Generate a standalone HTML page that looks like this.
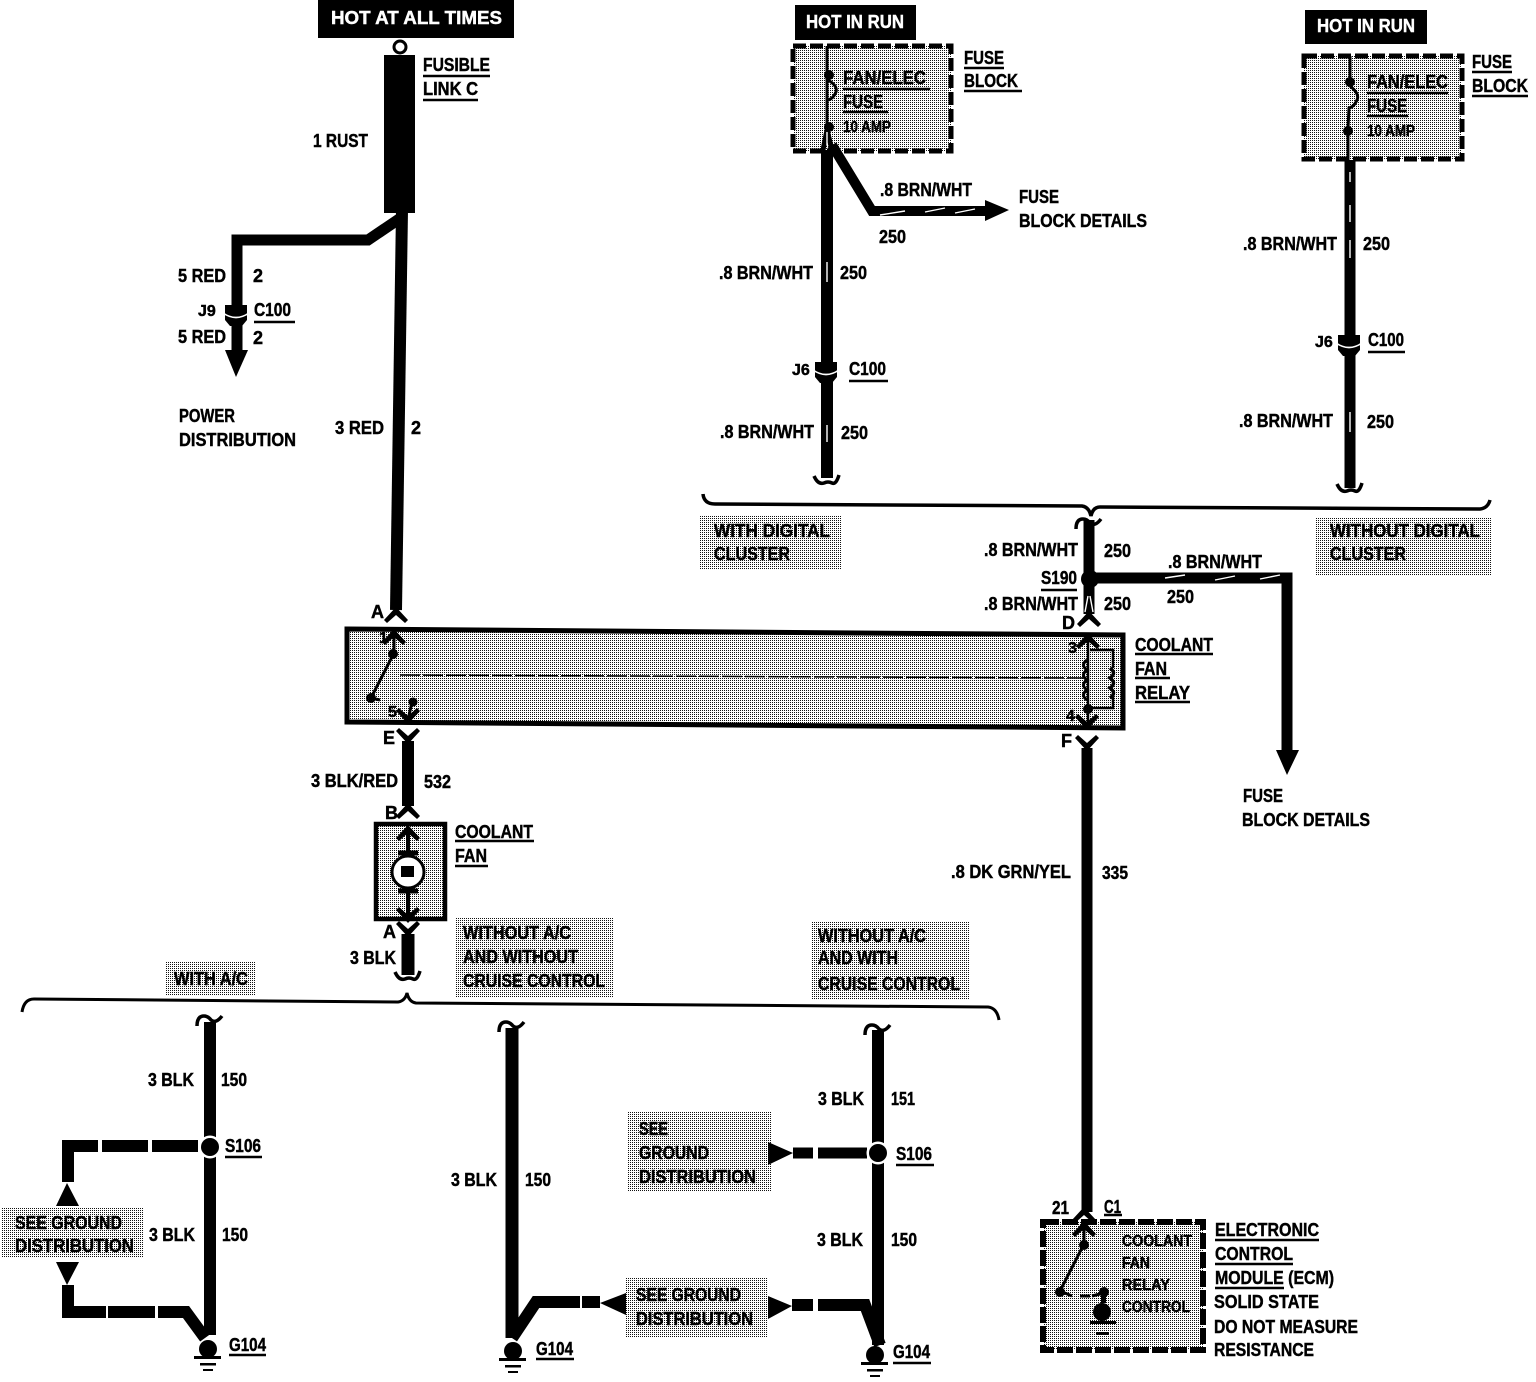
<!DOCTYPE html>
<html><head><meta charset="utf-8"><style>
html,body{margin:0;padding:0;background:#fff;width:1536px;height:1382px;overflow:hidden}
svg{display:block}
text{font-family:"Liberation Sans",sans-serif;font-weight:bold;font-size:18px;fill:#000;stroke:#000;stroke-width:.45}
.s{font-size:16px}
.w{fill:#fff;stroke:#fff}
</style></head><body>
<svg width="1536" height="1382" viewBox="0 0 1536 1382" xmlns="http://www.w3.org/2000/svg">
<defs>
<pattern id="g" width="2" height="2" patternUnits="userSpaceOnUse"><rect width="2" height="2" fill="#fff"/><rect width="1" height="1" fill="#111" shape-rendering="crispEdges"/></pattern>
<path id="cu" d="M0 -3L12 10L9 13L0 5L-9 13L-12 10Z"/>
<path id="cd" d="M0 3L12 -10L9 -13L0 -5L-9 -13L-12 -10Z"/>
<path id="wt" d="M-13 7Q-13 -3 -6 -3Q-2 -3 1 1Q6 5 12 -3" fill="none" stroke="#000" stroke-width="3.5"/>
<path id="wb" d="M-13 -5Q-9 4 -3 2Q1 0 5 2Q9 4 12 -6" fill="none" stroke="#000" stroke-width="3.5"/>
<g id="conn"><path d="M-11 -8H11V7L6 13H-6L-11 7Z"/><path d="M-13 0Q0 9 13 0" fill="none" stroke="#fff" stroke-width="1.6"/></g>
<g id="gnd"><circle cx="0" cy="0" r="9"/><rect x="-14" y="7" width="27" height="3"/><rect x="-8" y="14" width="16" height="2.5"/><rect x="-5" y="20" width="10" height="2"/></g>
</defs>

<!-- shaded areas -->
<g fill="url(#g)">
<rect x="793" y="46" width="158" height="105"/>
<rect x="1304" y="56" width="158" height="103"/>
<rect x="700" y="515" width="141" height="55"/>
<rect x="1315" y="517" width="176" height="59"/>
<path d="M347 629L1123 635V728L347 722Z"/>
<rect x="376" y="824" width="69" height="95"/>
<rect x="456" y="917" width="157" height="81"/>
<rect x="812" y="921" width="158" height="79"/>
<rect x="166" y="962" width="90" height="33"/>
<rect x="2" y="1208" width="142" height="50"/>
<rect x="628" y="1111" width="144" height="80"/>
<rect x="626" y="1277" width="142" height="60"/>
<rect x="1043" y="1222" width="160" height="128"/>
</g>

<!-- header tags -->
<rect x="318" y="0" width="196" height="38"/>
<rect x="795" y="5" width="121" height="35"/>
<rect x="1305" y="10" width="122" height="34"/>

<g fill="none" stroke="#000" stroke-linejoin="miter">
<!-- wires -->
<path d="M402 210L396 610" stroke-width="12"/>
<path d="M402 217L368 240H237V350" stroke-width="11"/>
<path d="M827 150V478" stroke-width="12"/>
<path d="M827 46V135" stroke-width="3"/>
<path d="M827 130L823 150M827 130L832 150" stroke-width="5"/>
<path d="M832 145L872 211H985" stroke-width="10"/>
<path d="M1350 160V488" stroke-width="11"/>
<path d="M1350 56V86M1348 128V160" stroke-width="3"/>
<path d="M1089 520V614" stroke-width="11"/>
<path d="M1090 578H1287V752" stroke-width="11"/>
<path d="M1087 748V1212" stroke-width="11"/>
<path d="M408 741V806" stroke-width="12"/>
<path d="M408 934V975" stroke-width="13"/>
<path d="M210 1022V1335" stroke-width="12"/>
<path d="M512 1028V1338" stroke-width="13"/>
<path d="M878 1030V1345" stroke-width="12"/>
<!-- ground feeds -->
<path d="M198 1146H152M148 1146H102M98 1146H68V1182" stroke-width="12"/>
<path d="M68 1285V1312H106M108 1312H155M158 1312H186L205 1338" stroke-width="12"/>
<path d="M512 1338L536 1302H580M582 1302H600" stroke-width="12"/>
<path d="M867 1153H818M813 1153H793" stroke-width="11"/>
<path d="M880 1345L865 1305H818M813 1305H792" stroke-width="12"/>
<!-- boxes -->
<path d="M347 629L1123 635V728L347 722Z" stroke-width="5"/>
<path d="M376 824H445V919H376Z" stroke-width="4.5"/>
<path d="M793 46H951V151H793Z" stroke-width="5" stroke-dasharray="13 4"/>
<path d="M1304 56H1462V159H1304Z" stroke-width="5" stroke-dasharray="13 4"/>
<path d="M1043 1222H1203V1350H1043Z" stroke-width="6" stroke-dasharray="16 3"/>
<!-- braces -->
<path d="M703 494Q704 504 715 504L1082 506Q1089 507 1091 516Q1093 507 1100 507L1480 509Q1488 508 1490 500" stroke-width="3.5"/>
<path d="M22 1012Q24 999 34 999L398 1002Q405 1001 407 993Q409 1002 416 1003L988 1007Q997 1008 999 1020" stroke-width="3"/>
<!-- relay internals -->
<path d="M394 632V654M393 655L371 698L380 700" stroke-width="3"/>
<path d="M400 675L1084 678" stroke-width="1.5" stroke-dasharray="20 3"/>
<path d="M412 702L408 720" stroke-width="3"/>
<path d="M1088 640V726" stroke-width="2.5"/>
<path d="M1090 650H1113V668M1113 697V708H1088" stroke-width="2.5"/>
<path d="M1087 660q-7 5 0 10q-7 5 0 10q-7 5 0 10q-7 5 0 10" stroke-width="3"/>
<path d="M1110 668q7 5 0 10q7 5 0 10q7 5 0 10" stroke-width="3.5"/>
<!-- fuse curls -->
<path d="M828 80q10 6 8 12q-3 7 -8 8" stroke-width="3"/>
<path d="M1350 86q10 8 7 14q-3 7 -8 8L1348 128" stroke-width="3"/>
<!-- ecm internals -->
<path d="M1084 1225V1244L1060 1291L1072 1296M1080 1296H1090M1092 1296L1104 1293" stroke-width="3"/>
<!-- fan motor -->
<circle cx="408" cy="872" r="16" stroke-width="3" fill="#fff"/>
<path d="M408 828V852M408 892V918" stroke-width="4"/>
<path d="M398 853H418M398 891H418" stroke-width="5"/>
<!-- underlines -->
<path d="M423 76H490M423 100H478M254 322H295M964 68H1004M964 91H1022M843 89H930M843 112H888M849 381H888M1472 72H1512M1472 96H1528M1367 93H1448M1367 116H1408M1368 352H1405M1041 590H1077M1135 654H1213M1135 678H1170M1135 702H1190M455 841H534M455 866H488M225 1157H262M896 1165H934M229 1355H266M536 1359H574M893 1363H931M1104 1215H1122M1215 1240H1319M1215 1264H1293M1215 1288H1284" stroke-width="2.5"/>
</g>

<!-- white tracers on BRN/WHT -->
<g fill="none" stroke="#fff" stroke-width="1.4">
<path d="M880 215L905 211M925 212L945 208M955 213L975 209"/>
<path d="M1165 578L1185 575M1215 580L1235 576M1260 579L1280 575"/>
<path d="M827 262V282M827 425V442M1350 205V222M1350 240V258M1350 412V432M1352 345V355"/>
<path d="M1088 596L1085 612M1090 596L1093 612M827 132V145M1350 172V182"/>
</g>

<!-- gaps around splices -->
<circle cx="210" cy="1147" r="11.5" fill="#fff"/>
<circle cx="878" cy="1153" r="11.5" fill="#fff"/>

<!-- solid components -->
<rect x="384" y="55" width="31" height="158"/>
<circle cx="400" cy="47" r="6" fill="#fff" stroke="#000" stroke-width="3"/>
<path d="M225 350H248L236 377Z"/>
<path d="M985 200L1009 210L985 221Z"/>
<path d="M1276 750H1299L1287 775Z"/>
<path d="M56 1206H79L67 1183Z"/>
<path d="M56 1262H79L67 1285Z"/>
<path d="M626 1293V1315L600 1303Z"/>
<path d="M768 1142V1165L793 1153Z"/>
<path d="M768 1296V1319L792 1306Z"/>
<circle cx="1090" cy="579" r="9"/>
<circle cx="210" cy="1147" r="9"/>
<circle cx="878" cy="1153" r="9"/>
<circle cx="393" cy="654" r="5"/>
<circle cx="371" cy="698" r="5"/>
<circle cx="413" cy="702" r="4.5"/>
<circle cx="1084" cy="1245" r="5"/>
<circle cx="1060" cy="1292" r="5"/>
<circle cx="829" cy="75" r="5"/>
<circle cx="829" cy="127" r="5"/>
<circle cx="1350" cy="82" r="5"/>
<circle cx="1348" cy="131" r="5"/>
<circle cx="1088" cy="709" r="5"/>
<rect x="401" y="866" width="13" height="11"/>
<circle cx="1104" cy="1292" r="5"/>
<path d="M1101 1296L1106 1296V1303H1101Z"/>
<circle cx="1102" cy="1312" r="9"/>
<rect x="1090" y="1321" width="26" height="3"/>
<rect x="1096" y="1332" width="13" height="3"/>

<!-- connector chevrons -->
<use href="#cu" x="396" y="610"/><use href="#cu" x="394" y="632"/>
<use href="#cd" x="408" y="721"/><use href="#cd" x="408" y="741"/>
<use href="#cu" x="408" y="806"/><use href="#cu" x="408" y="828"/>
<use href="#cd" x="408" y="920"/><use href="#cd" x="408" y="934"/>
<use href="#cu" x="1089" y="614"/><use href="#cu" x="1088" y="636"/>
<use href="#cd" x="1087" y="727"/><use href="#cd" x="1087" y="748"/>
<use href="#cu" x="1084" y="1210"/><use href="#cu" x="1084" y="1224"/>
<use href="#wt" x="1089" y="522"/><use href="#wt" x="210" y="1019"/><use href="#wt" x="512" y="1025"/><use href="#wt" x="878" y="1028"/>
<use href="#wb" x="827" y="481"/><use href="#wb" x="1350" y="489"/><use href="#wb" x="408" y="977"/>
<use href="#conn" x="236" y="313"/><use href="#conn" x="826" y="370"/><use href="#conn" x="1349" y="343"/>
<use href="#gnd" x="208" y="1349"/><use href="#gnd" x="513" y="1351"/><use href="#gnd" x="875" y="1355"/>

<!-- labels -->
<text class="w" x="331" y="24" textLength="171" lengthAdjust="spacingAndGlyphs">HOT AT ALL TIMES</text>
<text class="w" x="806" y="28" textLength="98" lengthAdjust="spacingAndGlyphs">HOT IN RUN</text>
<text class="w" x="1317" y="32" textLength="98" lengthAdjust="spacingAndGlyphs">HOT IN RUN</text>
<text x="423" y="71" textLength="67" lengthAdjust="spacingAndGlyphs">FUSIBLE</text>
<text x="423" y="95" textLength="55" lengthAdjust="spacingAndGlyphs">LINK C</text>
<text x="313" y="147" textLength="55" lengthAdjust="spacingAndGlyphs">1 RUST</text>
<text x="178" y="282" textLength="48" lengthAdjust="spacingAndGlyphs">5 RED</text><text x="253" y="282">2</text>
<text class="s" x="198" y="316">J9</text>
<text x="254" y="316" textLength="37" lengthAdjust="spacingAndGlyphs">C100</text>
<text x="178" y="343" textLength="48" lengthAdjust="spacingAndGlyphs">5 RED</text><text x="253" y="344">2</text>
<text x="179" y="422" textLength="56" lengthAdjust="spacingAndGlyphs">POWER</text>
<text x="179" y="446" textLength="117" lengthAdjust="spacingAndGlyphs">DISTRIBUTION</text>
<text x="335" y="434" textLength="49" lengthAdjust="spacingAndGlyphs">3 RED</text><text x="411" y="434">2</text>
<text x="371" y="618">A</text>

<text x="964" y="64" textLength="40" lengthAdjust="spacingAndGlyphs">FUSE</text>
<text x="964" y="87" textLength="54" lengthAdjust="spacingAndGlyphs">BLOCK</text>
<text x="843" y="84" textLength="83" lengthAdjust="spacingAndGlyphs">FAN/ELEC</text>
<text x="843" y="108" textLength="40" lengthAdjust="spacingAndGlyphs">FUSE</text>
<text class="s" x="843" y="132" textLength="48" lengthAdjust="spacingAndGlyphs">10 AMP</text>
<text x="880" y="196" textLength="92" lengthAdjust="spacingAndGlyphs">.8 BRN/WHT</text>
<text x="1019" y="203" textLength="40" lengthAdjust="spacingAndGlyphs">FUSE</text>
<text x="1019" y="227" textLength="128" lengthAdjust="spacingAndGlyphs">BLOCK DETAILS</text>
<text x="879" y="243" textLength="27" lengthAdjust="spacingAndGlyphs">250</text>
<text x="719" y="279" textLength="94" lengthAdjust="spacingAndGlyphs">.8 BRN/WHT</text>
<text x="840" y="279" textLength="27" lengthAdjust="spacingAndGlyphs">250</text>
<text class="s" x="792" y="375">J6</text>
<text x="849" y="375" textLength="37" lengthAdjust="spacingAndGlyphs">C100</text>
<text x="720" y="438" textLength="94" lengthAdjust="spacingAndGlyphs">.8 BRN/WHT</text>
<text x="841" y="439" textLength="27" lengthAdjust="spacingAndGlyphs">250</text>

<text x="1472" y="68" textLength="40" lengthAdjust="spacingAndGlyphs">FUSE</text>
<text x="1472" y="92" textLength="56" lengthAdjust="spacingAndGlyphs">BLOCK</text>
<text x="1367" y="88" textLength="81" lengthAdjust="spacingAndGlyphs">FAN/ELEC</text>
<text x="1367" y="112" textLength="40" lengthAdjust="spacingAndGlyphs">FUSE</text>
<text class="s" x="1367" y="136" textLength="48" lengthAdjust="spacingAndGlyphs">10 AMP</text>
<text x="1243" y="250" textLength="94" lengthAdjust="spacingAndGlyphs">.8 BRN/WHT</text>
<text x="1363" y="250" textLength="27" lengthAdjust="spacingAndGlyphs">250</text>
<text class="s" x="1315" y="347">J6</text>
<text x="1368" y="346" textLength="36" lengthAdjust="spacingAndGlyphs">C100</text>
<text x="1239" y="427" textLength="94" lengthAdjust="spacingAndGlyphs">.8 BRN/WHT</text>
<text x="1367" y="428" textLength="27" lengthAdjust="spacingAndGlyphs">250</text>

<text x="714" y="537" textLength="116" lengthAdjust="spacingAndGlyphs">WITH DIGITAL</text>
<text x="714" y="560" textLength="76" lengthAdjust="spacingAndGlyphs">CLUSTER</text>
<text x="1330" y="537" textLength="150" lengthAdjust="spacingAndGlyphs">WITHOUT DIGITAL</text>
<text x="1330" y="560" textLength="76" lengthAdjust="spacingAndGlyphs">CLUSTER</text>
<text x="984" y="556" textLength="94" lengthAdjust="spacingAndGlyphs">.8 BRN/WHT</text>
<text x="1104" y="557" textLength="27" lengthAdjust="spacingAndGlyphs">250</text>
<text x="1168" y="568" textLength="94" lengthAdjust="spacingAndGlyphs">.8 BRN/WHT</text>
<text x="1041" y="584" textLength="36" lengthAdjust="spacingAndGlyphs">S190</text>
<text x="1167" y="603" textLength="27" lengthAdjust="spacingAndGlyphs">250</text>
<text x="984" y="610" textLength="94" lengthAdjust="spacingAndGlyphs">.8 BRN/WHT</text>
<text x="1104" y="610" textLength="27" lengthAdjust="spacingAndGlyphs">250</text>
<text x="1062" y="629">D</text>
<text x="1135" y="651" textLength="78" lengthAdjust="spacingAndGlyphs">COOLANT</text>
<text x="1135" y="675" textLength="32" lengthAdjust="spacingAndGlyphs">FAN</text>
<text x="1135" y="699" textLength="55" lengthAdjust="spacingAndGlyphs">RELAY</text>
<text class="s" x="1068" y="653">3</text>
<text class="s" x="1066" y="721">4</text>
<text x="1061" y="747">F</text>
<text class="s" x="379" y="643">1</text>
<text class="s" x="388" y="717">5</text>
<text x="383" y="744">E</text>
<text x="311" y="787" textLength="87" lengthAdjust="spacingAndGlyphs">3 BLK/RED</text>
<text x="424" y="788" textLength="27" lengthAdjust="spacingAndGlyphs">532</text>
<text x="385" y="819">B</text>
<text x="455" y="838" textLength="78" lengthAdjust="spacingAndGlyphs">COOLANT</text>
<text x="455" y="862" textLength="32" lengthAdjust="spacingAndGlyphs">FAN</text>
<text x="383" y="938">A</text>
<text x="350" y="964" textLength="46" lengthAdjust="spacingAndGlyphs">3 BLK</text>
<text x="463" y="939" textLength="108" lengthAdjust="spacingAndGlyphs">WITHOUT A/C</text>
<text x="463" y="963" textLength="115" lengthAdjust="spacingAndGlyphs">AND WITHOUT</text>
<text x="463" y="987" textLength="142" lengthAdjust="spacingAndGlyphs">CRUISE CONTROL</text>
<text x="818" y="942" textLength="108" lengthAdjust="spacingAndGlyphs">WITHOUT A/C</text>
<text x="818" y="964" textLength="80" lengthAdjust="spacingAndGlyphs">AND WITH</text>
<text x="818" y="990" textLength="142" lengthAdjust="spacingAndGlyphs">CRUISE CONTROL</text>
<text x="174" y="985" textLength="74" lengthAdjust="spacingAndGlyphs">WITH A/C</text>
<text x="951" y="878" textLength="120" lengthAdjust="spacingAndGlyphs">.8 DK GRN/YEL</text>
<text x="1102" y="879" textLength="26" lengthAdjust="spacingAndGlyphs">335</text>
<text x="1243" y="802" textLength="40" lengthAdjust="spacingAndGlyphs">FUSE</text>
<text x="1242" y="826" textLength="128" lengthAdjust="spacingAndGlyphs">BLOCK DETAILS</text>

<text x="148" y="1086" textLength="46" lengthAdjust="spacingAndGlyphs">3 BLK</text>
<text x="221" y="1086" textLength="26" lengthAdjust="spacingAndGlyphs">150</text>
<text x="225" y="1152" textLength="36" lengthAdjust="spacingAndGlyphs">S106</text>
<text x="149" y="1241" textLength="46" lengthAdjust="spacingAndGlyphs">3 BLK</text>
<text x="222" y="1241" textLength="26" lengthAdjust="spacingAndGlyphs">150</text>
<text x="15" y="1229" textLength="107" lengthAdjust="spacingAndGlyphs">SEE GROUND</text>
<text x="15" y="1252" textLength="119" lengthAdjust="spacingAndGlyphs">DISTRIBUTION</text>
<text x="229" y="1351" textLength="37" lengthAdjust="spacingAndGlyphs">G104</text>
<text x="451" y="1186" textLength="46" lengthAdjust="spacingAndGlyphs">3 BLK</text>
<text x="525" y="1186" textLength="26" lengthAdjust="spacingAndGlyphs">150</text>
<text x="536" y="1355" textLength="37" lengthAdjust="spacingAndGlyphs">G104</text>
<text x="818" y="1105" textLength="46" lengthAdjust="spacingAndGlyphs">3 BLK</text>
<text x="891" y="1105" textLength="24" lengthAdjust="spacingAndGlyphs">151</text>
<text x="896" y="1160" textLength="36" lengthAdjust="spacingAndGlyphs">S106</text>
<text x="639" y="1135" textLength="29" lengthAdjust="spacingAndGlyphs">SEE</text>
<text x="639" y="1159" textLength="70" lengthAdjust="spacingAndGlyphs">GROUND</text>
<text x="639" y="1183" textLength="117" lengthAdjust="spacingAndGlyphs">DISTRIBUTION</text>
<text x="817" y="1246" textLength="46" lengthAdjust="spacingAndGlyphs">3 BLK</text>
<text x="891" y="1246" textLength="26" lengthAdjust="spacingAndGlyphs">150</text>
<text x="636" y="1301" textLength="105" lengthAdjust="spacingAndGlyphs">SEE GROUND</text>
<text x="636" y="1325" textLength="117" lengthAdjust="spacingAndGlyphs">DISTRIBUTION</text>
<text x="893" y="1358" textLength="37" lengthAdjust="spacingAndGlyphs">G104</text>
<text x="1052" y="1214" textLength="17" lengthAdjust="spacingAndGlyphs">21</text>
<text x="1104" y="1213" textLength="17" lengthAdjust="spacingAndGlyphs">C1</text>
<text x="1122" y="1246" class="s" textLength="70" lengthAdjust="spacingAndGlyphs">COOLANT</text>
<text x="1122" y="1268" class="s" textLength="28" lengthAdjust="spacingAndGlyphs">FAN</text>
<text x="1122" y="1290" class="s" textLength="48" lengthAdjust="spacingAndGlyphs">RELAY</text>
<text x="1122" y="1312" class="s" textLength="68" lengthAdjust="spacingAndGlyphs">CONTROL</text>
<text x="1215" y="1236" textLength="104" lengthAdjust="spacingAndGlyphs">ELECTRONIC</text>
<text x="1215" y="1260" textLength="78" lengthAdjust="spacingAndGlyphs">CONTROL</text>
<text x="1215" y="1284" textLength="119" lengthAdjust="spacingAndGlyphs">MODULE (ECM)</text>
<text x="1214" y="1308" textLength="105" lengthAdjust="spacingAndGlyphs">SOLID STATE</text>
<text x="1214" y="1333" textLength="144" lengthAdjust="spacingAndGlyphs">DO NOT MEASURE</text>
<text x="1214" y="1356" textLength="100" lengthAdjust="spacingAndGlyphs">RESISTANCE</text>
</svg>
</body></html>
